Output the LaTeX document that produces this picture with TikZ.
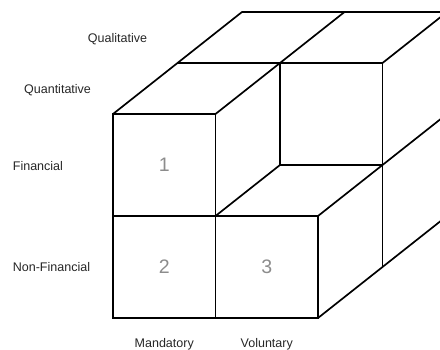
\documentclass[tikz,border=0pt]{standalone}
\usepackage{fontspec}
\setmainfont{Liberation Sans}
\begin{document}
\begin{tikzpicture}[x={(2.5625cm,0cm)}, y={(0cm,2.55cm)}, z={(1.6125cm,1.275cm)},
        line width=1.2pt, line join=miter,
        axislabel/.style={font=\fontsize{8.9}{10}\selectfont, text=black!85, inner sep=0pt},
        cellnum/.style={font=\fontsize{13.9}{16}\selectfont, text=black!45, inner sep=0pt}]
            \useasboundingbox (-2.825cm,-0.8cm) rectangle (8.175cm,7.95cm);
            \clip (-2.825cm,-0.8cm) rectangle (8.175cm,7.95cm);

            % corners, named by (column, row, depth)
            \coordinate (000) at (0,0,0);
            \coordinate (100) at (1,0,0);
            \coordinate (200) at (2,0,0);
            \coordinate (010) at (0,1,0);
            \coordinate (110) at (1,1,0);
            \coordinate (210) at (2,1,0);
            \coordinate (020) at (0,2,0);
            \coordinate (120) at (1,2,0);
            \coordinate (111) at (1,1,1);
            \coordinate (211) at (2,1,1);
            \coordinate (201) at (2,0,1);
            \coordinate (021) at (0,2,1);
            \coordinate (121) at (1,2,1);
            \coordinate (221) at (2,2,1);
            \coordinate (202) at (2,0,2);
            \coordinate (212) at (2,1,2);
            \coordinate (022) at (0,2,2);
            \coordinate (122) at (1,2,2);
            \coordinate (222) at (2,2,2);

            \draw (000) -- (200) -- (210) -- (110) -- (120) -- (020) -- cycle;
            \draw (010) -- (110) -- (100);
            \draw (020) -- (022) -- (222);
            \draw (120) -- (122);
            \draw (021) -- (221) -- (222);
            \draw (121) -- (111) -- (110);
            \draw (111) -- (211);
            \draw (210) -- (211) -- (212);
            \draw (200) -- (202);
            \draw (201) -- (221);

            \node[cellnum] (one) at (0.5,1.5,0) {1};
            \node[cellnum] (two) at (0.5,0.5,0) {2};
            \node[cellnum] (three) at (1.5,0.5,0) {3};

            \node[axislabel, anchor=base] (quali) at (0.044,2.70) {Qualitative};
            \node[axislabel, anchor=base] (quanti) at (-0.541,2.20) {Quantitative};
            \node[axislabel, anchor=base west] (fin) at (-0.985,1.446) {Financial};
            \node[axislabel, anchor=base west] (nonfin) at (-0.985,0.456) {Non-Financial};
            \node[axislabel, anchor=base] (mand) at (0.5,-0.289) {Mandatory};
            \node[axislabel, anchor=base] (vol) at (1.5,-0.289) {Voluntary};
        \end{tikzpicture}
\end{document}
